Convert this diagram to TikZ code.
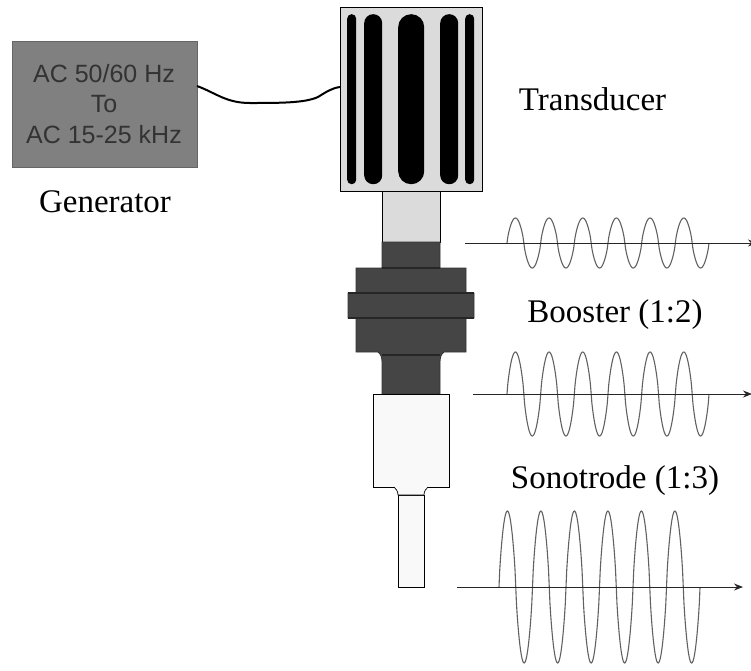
\documentclass[tikz,border=0pt]{standalone}
\usepackage{fontspec}
\setmainfont{Liberation Serif}
\newfontfamily\genfont{Liberation Sans}
\usepackage{tikz}
\usetikzlibrary{arrows.meta,positioning}
\definecolor{genfill}{gray}{0.50}
\definecolor{genink}{gray}{0.20}
\definecolor{lightpart}{gray}{0.86}
\definecolor{darkpart}{gray}{0.27}
\definecolor{whitepart}{gray}{0.975}
\tikzset{
  part/.style={draw=black,line width=0.9pt,inner sep=0pt,outer sep=0pt,anchor=north west},
  bar/.style={fill=black,draw=none,inner sep=0pt,anchor=north west,minimum height=170pt},
  label/.style={font=\fontsize{33}{33}\selectfont,inner sep=0pt,anchor=base},
  axis/.style={-{Stealth[length=9pt,width=7pt]},line width=1pt,black!85},
  wave/.style={line width=1.1pt,black!62}
}
\begin{document}
\begin{tikzpicture}[x=1pt,y=-1pt]
  \useasboundingbox (0,0) rectangle (751,670);
\node[part,fill=genfill,draw=black!60,minimum width=185pt,minimum height=126pt] (generator) at (12,41) {};
\node[align=center,text=genink,font=\genfont\fontsize{25}{30.5}\selectfont] (gentext) at (104,104) {AC 50/60 Hz\\To\\AC 15-25 kHz};
\node[part,fill=lightpart,minimum width=142pt,minimum height=184pt] (transducer) at (340,7) {};
\node[bar,minimum width=9pt,rounded corners=4.4pt] (bara) at (347,14) {};
\node[bar,minimum width=18pt,rounded corners=8.9pt] (barb) at (364,14) {};
\node[bar,minimum width=26pt,rounded corners=12.9pt] (barc) at (398,14) {};
\node[bar,minimum width=18pt,rounded corners=8.9pt] (bard) at (440,14) {};
\node[bar,minimum width=9pt,rounded corners=4.4pt] (bare) at (465,14) {};
\node[part,fill=lightpart,minimum width=58pt,minimum height=51pt] (neck) at (382,191) {};
% booster
\draw[fill=darkpart,draw=black!80,line width=0.8pt] (382,242) -- (440,242) -- (440,268) -- (466,268) -- (466,293) -- (474,293) -- (474,318) -- (466,318) -- (466,352) -- (444,352)
  .. controls (441,354) and (440,358) .. (440,362) -- (440,394) -- (382,394) -- (382,362)
  .. controls (382,358) and (381,354) .. (378,352) -- (356,352) -- (356,318) -- (348,318) -- (348,293) -- (356,293) -- (356,268) -- (382,268) -- cycle;
\draw[black!85,line width=1.5pt] (348,293) -- (474,293) (348,318) -- (474,318) (382,268) -- (440,268) (382,355) -- (440,355);
\node[part,fill=whitepart,minimum width=76pt,minimum height=93pt] (sonotrode) at (373,394) {};
\node[part,fill=whitepart,minimum width=26pt,minimum height=92pt] (rod) at (398,495) {};
\draw[fill=whitepart,line width=0.7pt] (394,487) .. controls (396,489) and (398,491) .. (398,495) -- (424,495) .. controls (424,491) and (426,489) .. (428,487);
% wire
\draw[line width=2pt] ([yshift=18pt]generator.east) .. controls (216,93) and (226,103) .. (250,103) .. controls (280,103) and (305,103) .. (318,97) .. controls (326,92) and (332,88) .. ([yshift=12pt]transducer.west);
% waves
\coordinate (axisa) at (465,243);
\coordinate (axisaend) at (757,243);
\coordinate (axisb) at (473,394);
\coordinate (axisbend) at (752,394);
\coordinate (axisc) at (457,587);
\coordinate (axiscend) at (743,587);
\draw[wave] plot[domain=0:2160,samples=289] ({507+\x*0.09352},{243-25*sin(\x)*(abs(sin(\x))+0.001)^(-0.25)});
\draw[wave] plot[domain=0:2160,samples=289] ({507+\x*0.09352},{394-42*sin(\x)*(abs(sin(\x))+0.001)^(-0.25)});
\draw[wave] plot[domain=0:2160,samples=289] ({499+\x*0.09306},{587-76*sin(\x)*(abs(sin(\x))+0.001)^(-0.25)});
\draw[axis] (axisa) -- (axisaend);
\draw[axis] (axisb) -- (axisbend);
\draw[axis] (axisc) -- (axiscend);
% labels
\node[label] (genlabel) at (105,212) {Generator};
\node[label] (translabel) at (592.5,110) {Transducer};
\node[label] (boostlabel) at (615,322) {Booster (1:2)};
\node[label] (sonolabel) at (615,488) {Sonotrode (1:3)};
\end{tikzpicture}
\end{document}
